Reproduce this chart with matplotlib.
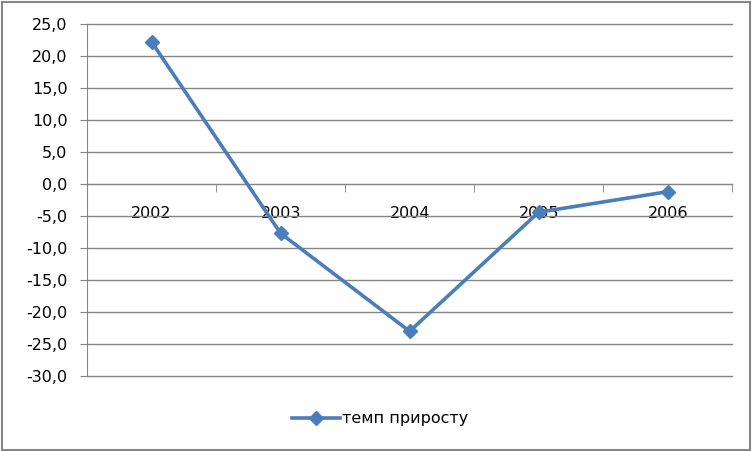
import matplotlib
matplotlib.use('Agg')
import matplotlib.pyplot as plt
from matplotlib.ticker import FuncFormatter, FixedLocator
from matplotlib.patches import Rectangle

years = ['2002', '2003', '2004', '2005', '2006']
growth = [22.2, -7.7, -23.0, -4.4, -1.2]
yticks = list(range(-30, 30, 5))

fig = plt.figure(figsize=(7.53, 4.51), dpi=100)
ax = fig.add_axes([0.1155, 0.166, 0.857, 0.781])

grid_col = '#868686'
line_col = '#4A7EBB'

x = list(range(len(years)))
ax.plot(x, growth, color=line_col, lw=2.6, marker='D', markersize=7.5,
        label='темп приросту', zorder=3)

ax.set_xlim(-0.5, len(years) - 0.5)
ax.set_ylim(-30, 25)
ax.set_yticks(yticks)
ax.yaxis.set_major_formatter(FuncFormatter(lambda v, p: f'{v:.1f}'.replace('.', ',')))
ax.grid(axis='y', color=grid_col, lw=1)
ax.set_axisbelow(True)

ax.set_xticks(x)
ax.set_xticklabels(years)
ax.xaxis.set_minor_locator(FixedLocator([i - 0.5 for i in range(len(years) + 1)]))
ax.tick_params(axis='x', which='major', length=0, pad=16, labelsize=11.5)
ax.tick_params(axis='x', which='minor', length=5.5, color=grid_col, direction='out')
ax.tick_params(axis='y', length=5, color=grid_col, pad=9, labelsize=11.5)

ax.spines['bottom'].set_position(('data', 0))
ax.spines['bottom'].set_color(grid_col)
ax.spines['left'].set_color(grid_col)
ax.spines['top'].set_visible(False)
ax.spines['right'].set_visible(False)

fig.canvas.draw()
for gl in ax.get_ygridlines():
    gl.set_clip_on(False)

fig.legend(loc='center', bbox_to_anchor=(0.505, 0.071), frameon=False,
           fontsize=11.5, handlelength=3, handletextpad=0.1)

fig.patches.append(Rectangle((0.002, 0.003), 0.994, 0.992, transform=fig.transFigure,
                             fill=False, edgecolor=grid_col, lw=1.5))

fig.savefig('out.png', dpi=100)
